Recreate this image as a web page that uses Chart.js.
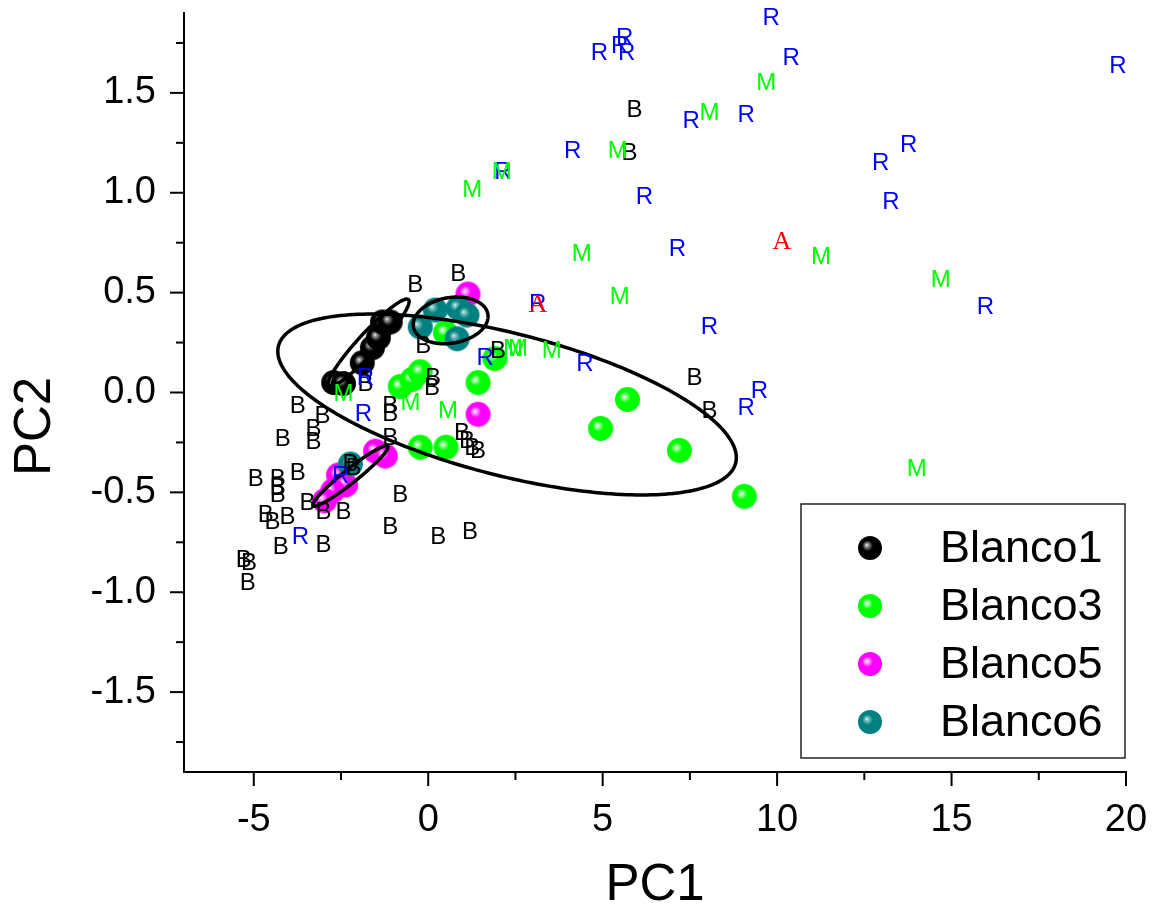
<!DOCTYPE html>
<html>
<head>
<meta charset="utf-8">
<script src="https://cdn.jsdelivr.net/npm/chart.js@4.4.0/dist/chart.umd.min.js"></script>
<style>
  html, body { margin: 0; padding: 0; background: #fff; }
  #wrap { width: 1155px; height: 917px; }
</style>
</head>
<body>
<div id="wrap"><canvas id="myChart" width="1155" height="917"></canvas></div>
<script>
// Scores (PC1, PC2) de cada blanco
const blanco1 = [[-2.71,0.05],[-2.43,0.045],[-1.89,0.149],[-1.60,0.224],[-1.43,0.274],[-1.31,0.353],[-1.09,0.353]];
const blanco3 = [[-0.8,0.03],[-0.46,0.065],[-0.23,0.104],[0.49,0.30],[1.43,0.05],[1.91,0.17],[-0.23,-0.274],[0.51,-0.274],[4.94,-0.18],[5.71,-0.035],[7.2,-0.29],[9.06,-0.52]];
const blanco5 = [[1.14,0.493],[1.43,-0.109],[-1.51,-0.294],[-1.23,-0.318],[-2.57,-0.413],[-2.37,-0.463],[-2.74,-0.493],[-2.97,-0.542]];
const blanco6 = [[-0.23,0.328],[0.2,0.413],[0.86,0.423],[1.11,0.388],[0.83,0.269],[-2.23,-0.358]];

// Muestras marcadas con letra
const letrasB = [[5.91,1.413],[5.77,1.199],[-0.37,0.537],[0.86,0.592],[-0.14,0.229],[2.0,0.204],[0.14,0.070],[0.11,0.020],[-1.8,0.040],[7.63,0.070],[8.06,-0.095],[-3.74,-0.070],[-3.03,-0.119],[-3.29,-0.184],[-3.29,-0.249],[-4.17,-0.234],[-1.09,-0.070],[-1.09,-0.109],[-1.09,-0.229],[0.97,-0.204],[1.11,-0.244],[1.26,-0.279],[1.43,-0.294],[-3.74,-0.403],[-4.94,-0.433],[-4.31,-0.433],[-4.31,-0.478],[-4.31,-0.517],[-3.46,-0.557],[-3.0,-0.602],[-2.43,-0.602],[-0.8,-0.517],[-4.66,-0.617],[-4.46,-0.652],[-4.03,-0.627],[-4.23,-0.776],[-3.0,-0.766],[-5.29,-0.841],[-5.14,-0.856],[-5.17,-0.955],[-1.09,-0.677],[0.29,-0.726],[1.2,-0.701],[-2.23,-0.358],[-2.14,-0.378]];
const letrasR = [[4.91,1.697],[5.49,1.731],[5.63,1.771],[5.69,1.697],[9.83,1.871],[10.4,1.672],[7.54,1.358],[9.11,1.388],[4.14,1.209],[2.14,1.10],[6.2,0.975],[7.14,0.716],[19.77,1.632],[13.77,1.239],[12.97,1.149],[13.26,0.950],[15.97,0.428],[3.14,0.443],[8.06,0.328],[1.63,0.169],[4.49,0.139],[9.49,0.005],[9.11,-0.080],[-1.8,0.070],[-1.86,-0.109],[-2.51,-0.418],[-3.66,-0.726]];
const letrasM = [[1.26,1.01],[2.11,1.10],[5.43,1.209],[8.06,1.398],[9.69,1.547],[4.4,0.692],[11.26,0.677],[14.69,0.562],[5.49,0.478],[2.43,0.214],[2.57,0.214],[3.54,0.204],[0.57,-0.095],[-0.51,-0.055],[-2.43,-0.01],[14.0,-0.383]];
const letrasA = [[3.14,0.438],[10.14,0.751]];

// Elipses de confianza: centro y covarianza [sxx, sxy, syy]
const elipseCentros = [[2.26,-0.06],[-1.71,0.249],[0.643,0.361],[-2.23,-0.418]];
const elipseCov = [[43.18,-1.749,0.205],[1.351,0.240,0.0479],[1.148,0.0213,0.01367],[1.162,0.1565,0.023]];

// Marcas de los ejes
const xTicks = [-5, 0, 5, 10, 15, 20];
const xMinor = [-2.5, 2.5, 7.5, 12.5, 17.5];
const yTicks = [-1.5, -1.0, -0.5, 0.0, 0.5, 1.0, 1.5];
const yMinor = [-1.75, -1.25, -0.75, -0.25, 0.25, 0.75, 1.25, 1.75];

const FUENTE = "'Liberation Sans', Arial, sans-serif";

// Crea la imagen de una esfera con brillo
function esfera(color, luz, r) {
  const c = document.createElement("canvas");
  const s = Math.ceil(r * 2 + 2);
  c.width = s;
  c.height = s;
  const g = c.getContext("2d");
  const cx = s / 2, cy = s / 2;
  const grad = g.createRadialGradient(cx - r * 0.28, cy - r * 0.25, 0, cx - r * 0.1, cy - r * 0.1, r);
  grad.addColorStop(0, "#ffffff");
  grad.addColorStop(0.12, luz);
  grad.addColorStop(0.45, color);
  grad.addColorStop(1, color);
  g.fillStyle = grad;
  g.beginPath();
  g.arc(cx, cy, r, 0, Math.PI * 2);
  g.fill();
  return c;
}

const series = [
  { label: "Blanco1", data: blanco1, color: "#000000", luz: "#a0a0a0", order: 4 },
  { label: "Blanco3", data: blanco3, color: "#00ff00", luz: "#b8ffb8", order: 3 },
  { label: "Blanco5", data: blanco5, color: "#ff00ff", luz: "#ffb8ff", order: 2 },
  { label: "Blanco6", data: blanco6, color: "#008080", luz: "#88c8c8", order: 1 },
];

const letras = [
  { letra: "B", data: letrasB, color: "#000000", fuente: "24px " + FUENTE },
  { letra: "R", data: letrasR, color: "#0000ff", fuente: "24px " + FUENTE },
  { letra: "M", data: letrasM, color: "#00ff00", fuente: "24px " + FUENTE },
  { letra: "A", data: letrasA, color: "#ff0000", fuente: "26px 'Liberation Serif', 'Times New Roman', serif" },
];

const toPoints = (arr) => arr.map(([x, y]) => ({ x, y }));

const datasets = series.map((s) => ({
  label: s.label,
  data: toPoints(s.data),
  pointStyle: esfera(s.color, s.luz, 12.5),
  pointRadius: 12,
  order: s.order,
  clip: false,
}));

letras.forEach((l) => {
  datasets.push({
    label: l.letra,
    data: toPoints(l.data),
    pointRadius: 0,
    letra: l.letra,
    colorLetra: l.color,
    fuente: l.fuente,
    order: 0,
    clip: false,
  });
});

// Quitamos el relleno extra que Chart.js reserva para las etiquetas
function sinRelleno(s) {
  s.paddingTop = 0;
  s.paddingBottom = 0;
  s.paddingLeft = 0;
  s.paddingRight = 0;
}

// Ejes: marcas mayores y menores hacia afuera, y titulo PC2
const marcasPlugin = {
  id: "marcas",
  afterDraw(chart) {
    const { ctx, chartArea, scales } = chart;
    ctx.save();
    ctx.strokeStyle = "#000";
    ctx.lineWidth = 2;
    const tick = (v, largo, eje) => {
      ctx.beginPath();
      if (eje === "x") {
        const px = scales.x.getPixelForValue(v);
        ctx.moveTo(px, chartArea.bottom);
        ctx.lineTo(px, chartArea.bottom + largo);
      } else {
        const py = scales.y.getPixelForValue(v);
        ctx.moveTo(chartArea.left, py);
        ctx.lineTo(chartArea.left - largo, py);
      }
      ctx.stroke();
    };
    xTicks.forEach((v) => tick(v, 14, "x"));
    xMinor.forEach((v) => tick(v, 8, "x"));
    yTicks.forEach((v) => tick(v, 14, "y"));
    yMinor.forEach((v) => tick(v, 8, "y"));

    // titulo del eje Y, algo por debajo del centro
    ctx.translate(36, (chartArea.top + chartArea.bottom) / 2 + 34);
    ctx.rotate(-Math.PI / 2);
    ctx.font = "51px " + FUENTE;
    ctx.fillStyle = "#000";
    ctx.textAlign = "center";
    ctx.textBaseline = "middle";
    ctx.fillText("PC2", 0, 0);
    ctx.restore();
  },
};

// Elipses, letras y leyenda
const extrasPlugin = {
  id: "extras",
  afterDatasetsDraw(chart) {
    const { ctx, scales, chartArea } = chart;
    ctx.save();
    // elipses
    ctx.strokeStyle = "#000";
    ctx.lineWidth = 3.5;
    elipseCentros.forEach(([cx, cy], i) => {
      const [sxx, sxy, syy] = elipseCov[i];
      const a = Math.sqrt(sxx);
      const b = sxy / a;
      const d = Math.sqrt(syy - b * b);
      ctx.beginPath();
      for (let k = 0; k <= 240; k++) {
        const t = (k / 240) * Math.PI * 2;
        const px = scales.x.getPixelForValue(cx + a * Math.cos(t));
        const py = scales.y.getPixelForValue(cy + b * Math.cos(t) + d * Math.sin(t));
        if (k === 0) ctx.moveTo(px, py);
        else ctx.lineTo(px, py);
      }
      ctx.closePath();
      ctx.stroke();
    });

    // letras
    ctx.textAlign = "center";
    ctx.textBaseline = "middle";
    chart.data.datasets.forEach((ds, i) => {
      if (!ds.letra) return;
      const meta = chart.getDatasetMeta(i);
      ctx.font = ds.fuente;
      ctx.fillStyle = ds.colorLetra;
      meta.data.forEach((pt) => ctx.fillText(ds.letra, pt.x, pt.y));
    });

    // leyenda
    const x0 = chartArea.right - 325;
    const y0 = chartArea.bottom - 268;
    ctx.fillStyle = "#fff";
    ctx.fillRect(x0, y0, 324, 254);
    ctx.strokeStyle = "#222";
    ctx.lineWidth = 1.5;
    ctx.strokeRect(x0, y0, 324, 254);
    ctx.font = "45px " + FUENTE;
    ctx.textAlign = "left";
    series.forEach((s, i) => {
      const fy = y0 + 44 + i * 58;
      const img = esfera(s.color, s.luz, 12);
      ctx.drawImage(img, x0 + 69 - img.width / 2, fy - img.height / 2);
      ctx.fillStyle = "#000";
      ctx.fillText(s.label, x0 + 139, fy + 2);
    });
    ctx.restore();
  },
};

const ctx = document.getElementById("myChart").getContext("2d");
const myChart = new Chart(ctx, {
  type: "scatter",
  data: { datasets: datasets },
  options: {
    responsive: false,
    animation: false,
    layout: { padding: { top: 9, right: 29, left: 0, bottom: 0 } },
    plugins: {
      legend: { display: false },
      tooltip: { enabled: false },
    },
    scales: {
      x: {
        min: -7,
        max: 20,
        afterBuildTicks: (s) => { s.ticks = xTicks.map((v) => ({ value: v })); },
        afterFit: (s) => { s.height = 145; sinRelleno(s); },
        ticks: {
          autoSkip: false,
          maxRotation: 0,
          padding: 26,
          color: "#000",
          font: { size: 38, family: FUENTE },
          callback: (v) => String(v),
        },
        grid: { display: false, drawTicks: false },
        border: { display: true, color: "#000", width: 2 },
        title: {
          display: true,
          text: "PC1",
          color: "#000",
          font: { size: 51, family: FUENTE },
          padding: { top: 0, bottom: 0 },
        },
      },
      y: {
        min: -1.9,
        max: 1.9,
        afterBuildTicks: (s) => { s.ticks = yTicks.map((v) => ({ value: v })); },
        afterFit: (s) => { s.width = 184; sinRelleno(s); },
        ticks: {
          autoSkip: false,
          padding: 28,
          color: "#000",
          font: { size: 38, family: FUENTE },
          callback: (v) => v.toFixed(1),
        },
        grid: { display: false, drawTicks: false },
        border: { display: true, color: "#000", width: 2 },
        title: { display: false },
      },
    },
  },
  plugins: [marcasPlugin, extrasPlugin],
});
</script>
</body>
</html>
